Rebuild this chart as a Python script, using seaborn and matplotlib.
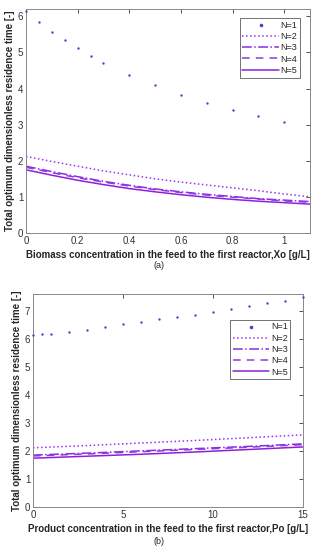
import numpy as np
import pandas as pd
import seaborn as sns
import matplotlib.pyplot as plt

sns.set_style('white')
plt.rcParams['font.family'] = ['Liberation Sans', 'DejaVu Sans']

# Panel (a): biomass concentration Xo [g/L]
xo_n1 = [0, 0.05, 0.1, 0.15, 0.2, 0.25, 0.3, 0.4, 0.5, 0.6, 0.7, 0.8, 0.9, 1.0]
tau_a_n1 = [6.15, 5.85, 5.58, 5.34, 5.11, 4.91, 4.72, 4.38, 4.09, 3.83, 3.60, 3.40, 3.23, 3.06]
xo = [0, 0.1, 0.2, 0.3, 0.4, 0.5, 0.6, 0.7, 0.8, 0.9, 1.0, 1.1]
tau_a_n2 = [2.12, 1.98, 1.85, 1.72, 1.61, 1.50, 1.41, 1.33, 1.25, 1.17, 1.08, 1.00]
tau_a_n3 = [1.85, 1.70, 1.56, 1.43, 1.32, 1.22, 1.14, 1.07, 1.01, 0.95, 0.91, 0.87]
tau_a_n4 = [1.82, 1.67, 1.53, 1.41, 1.30, 1.20, 1.12, 1.05, 0.99, 0.94, 0.89, 0.85]
tau_a_n5 = [1.75, 1.60, 1.46, 1.34, 1.23, 1.14, 1.06, 0.99, 0.93, 0.88, 0.84, 0.80]

# Panel (b): product concentration Po [g/L]
po_n1 = [0, 0.5, 1, 2, 3, 4, 5, 6, 7, 8, 9, 10, 11, 12, 13, 14, 15]
tau_b_n1 = [6.14, 6.16, 6.19, 6.25, 6.33, 6.42, 6.52, 6.59, 6.69, 6.77, 6.86,
            6.97, 7.07, 7.16, 7.27, 7.36, 7.49]
po = [0, 3, 6, 9, 12, 15]
tau_b_n2 = [2.12, 2.20, 2.29, 2.38, 2.48, 2.58]
tau_b_n3 = [1.86, 1.93, 2.01, 2.09, 2.17, 2.26]
tau_b_n4 = [1.83, 1.90, 1.98, 2.06, 2.14, 2.23]
tau_b_n5 = [1.75, 1.82, 1.89, 1.97, 2.06, 2.15]

c1 = '#5b3cc4'
line_styles = [('N=2', ':', '#9b30ff'), ('N=3', '-.', '#8a2be2'),
               ('N=4', (0, (5, 4)), '#8a3ce6'), ('N=5', '-', '#9020d8')]

fig = plt.figure(figsize=(3.17, 5.5), dpi=100)
ax_a = fig.add_axes([0.082, 0.5764, 0.896, 0.407])
ax_b = fig.add_axes([0.104, 0.0776, 0.852, 0.388])


def draw(ax, x1, y1, x, ys):
    sns.scatterplot(x=x1, y=y1, ax=ax, marker='.', s=12, color=c1,
                    edgecolor=c1, linewidth=0, label='N=1', clip_on=False,
                    zorder=3)
    for (lab, ls, col), y in zip(line_styles, ys):
        sns.lineplot(x=x, y=y, ax=ax, color=col, linestyle=ls, linewidth=1.1,
                     label=lab)
    ax.tick_params(direction='in', length=3, width=0.6, labelsize=7,
                   top=True, right=True, colors='#333333', pad=2)
    for s in ax.spines.values():
        s.set_color('#888888')
        s.set_linewidth(0.7)
    ax.set_ylabel('Total optimum dimensionless residence time [-]',
                  fontsize=7, fontweight='bold', labelpad=2)


draw(ax_a, xo_n1, tau_a_n1, xo, [tau_a_n2, tau_a_n3, tau_a_n4, tau_a_n5])
ax_a.set_xlim(0, 1.1)
ax_a.set_ylim(0, 6.2)
ax_a.set_xticks([0, 0.2, 0.4, 0.6, 0.8, 1])
ax_a.set_xticklabels(['0', '0.2', '0.4', '0.6', '0.8', '1'])
ax_a.set_yticks(range(0, 7))
ax_a.set_xlabel('Biomass concentration in the feed to the first reactor,Xo [g/L]',
                fontsize=7, fontweight='bold', labelpad=3)
leg = ax_a.legend(loc='upper right', bbox_to_anchor=(0.98, 0.98), fontsize=6.5,
                  frameon=True, fancybox=False, handlelength=4, borderpad=0.3,
                  labelspacing=0.25, handletextpad=0.2, markerscale=1.5)
leg.get_frame().set_edgecolor('#333333')
leg.get_frame().set_linewidth(0.6)

draw(ax_b, po_n1, tau_b_n1, po, [tau_b_n2, tau_b_n3, tau_b_n4, tau_b_n5])
ax_b.set_xlim(0, 15)
ax_b.set_ylim(0, 7.6)
ax_b.set_xticks([0, 5, 10, 15])
ax_b.set_yticks(range(0, 8))
ax_b.set_xlabel('Product concentration in the feed to the first reactor,Po [g/L]',
                fontsize=7, fontweight='bold', labelpad=3)
leg = ax_b.legend(loc='upper right', bbox_to_anchor=(0.97, 0.9), fontsize=6.5,
                  frameon=True, fancybox=False, handlelength=4, borderpad=0.3,
                  labelspacing=0.25, handletextpad=0.2, markerscale=1.5)
leg.get_frame().set_edgecolor('#333333')
leg.get_frame().set_linewidth(0.6)

fig.text(0.5, 1 - 265 / 550, '(a)', ha='center', va='center', fontsize=6.5)
fig.text(0.5, 1 - 541 / 550, '(b)', ha='center', va='center', fontsize=6.5)

fig.savefig('out.png', dpi=100)
